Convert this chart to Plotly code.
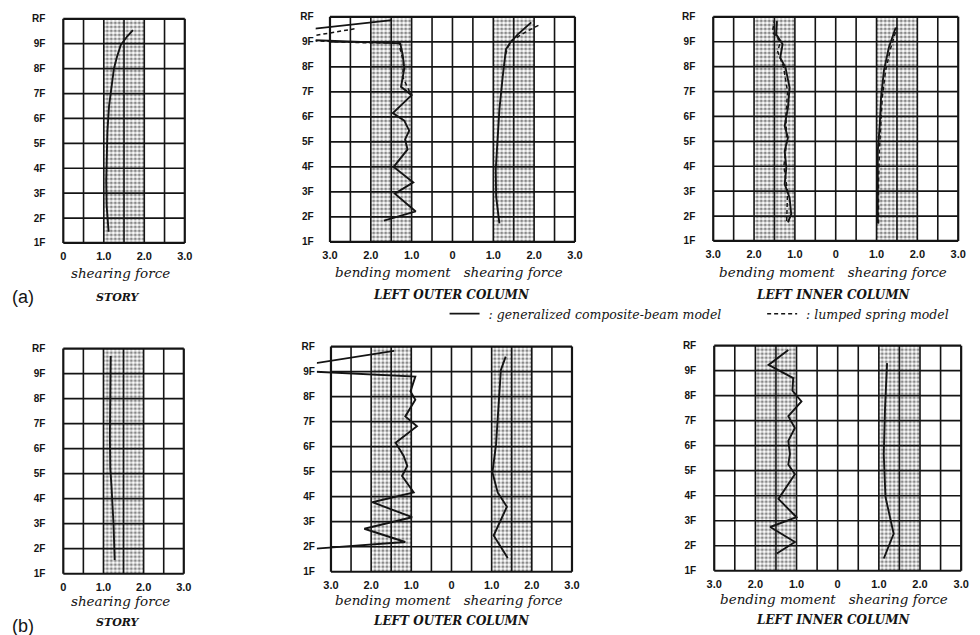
import plotly.graph_objects as go

# ---------------- data ----------------
floor_labels = ["1F", "2F", "3F", "4F", "5F", "6F", "7F", "8F", "9F", "RF"]
floor_levels = [0, 1, 2, 3, 4, 5, 6, 7, 8, 9]

story_tickvals = [0, 1, 2, 3]
story_ticktext = ["0", "1.0", "2.0", "3.0"]
column_tickvals = [-3, -2, -1, 0, 1, 2, 3]
column_ticktext = ["3.0", "2.0", "1.0", "0", "1.0", "2.0", "3.0"]

story_bands = [(1.0, 2.0)]
column_bands = [(-2.0, -1.0), (1.0, 2.0)]   # bending side (left), shearing side (right)

# (a) STORY shearing force
story_a_gen_sf = [1.12, 1.07, 1.06, 1.07, 1.09, 1.13, 1.20, 1.25, 1.33, 1.42, 1.58, 1.72]
story_a_gen_y = [0.45, 1.5, 2.5, 3.5, 4.5, 5.5, 6.5, 7.0, 7.5, 7.95, 8.3, 8.55]

# (a) LEFT OUTER COLUMN
outer_a_gen_bm = [1.68, 0.90, 1.41, 0.96, 1.44, 1.10, 1.16, 1.06, 1.18, 1.46, 1.00, 1.26, 1.18, 1.22, 1.28, 5.3, 1.48]
outer_a_gen_bm_y = [0.85, 1.22, 1.93, 2.38, 3.0, 3.7, 4.1, 4.45, 4.85, 5.15, 5.87, 6.2, 6.94, 7.5, 7.94, 8.18, 8.87]
outer_a_lump_bm = [1.05, 1.22, 1.20, 1.28, 1.30, 2.30, 4.0, 2.40]
outer_a_lump_bm_y = [6.0, 6.6, 7.2, 7.7, 7.96, 7.97, 8.08, 8.52]
outer_a_gen_sf = [1.15, 1.07, 1.06, 1.11, 1.15, 1.23, 1.31, 1.42, 1.60, 1.93]
outer_a_gen_sf_y = [0.74, 1.8, 2.9, 4.2, 5.3, 6.6, 7.7, 7.98, 8.3, 8.78]
outer_a_lump_sf = [1.30, 1.36, 1.45, 1.80, 2.15]
outer_a_lump_sf_y = [7.5, 7.8, 8.05, 8.4, 8.7]

# (a) LEFT INNER COLUMN
inner_a_gen_bm = [1.17, 1.09, 1.13, 1.25, 1.21, 1.25, 1.17, 1.25, 1.17, 1.13, 1.23, 1.36, 1.30, 1.46, 1.44]
inner_a_gen_bm_y = [0.75, 1.08, 1.74, 2.28, 2.94, 3.61, 4.15, 4.62, 5.35, 6.16, 6.96, 7.36, 7.9, 8.3, 8.83]
inner_a_lump_bm = [1.20, 1.18, 1.27, 1.20, 1.22, 1.18, 1.28, 1.42, 1.36, 1.55, 1.50]
inner_a_lump_bm_y = [0.8, 2.0, 3.0, 4.0, 5.0, 6.0, 7.0, 7.6, 8.0, 8.4, 8.85]
inner_a_gen_sf = [1.03, 1.03, 1.02, 1.03, 1.08, 1.11, 1.18, 1.30, 1.47]
inner_a_gen_sf_y = [0.7, 1.2, 2.28, 3.61, 4.69, 5.75, 6.83, 7.76, 8.57]
inner_a_lump_sf = [1.05, 1.05, 1.05, 1.07, 1.10, 1.14, 1.22, 1.35, 1.50]
inner_a_lump_sf_y = [0.7, 1.2, 2.28, 3.61, 4.69, 5.75, 6.83, 7.76, 8.57]

# (b) STORY shearing force
story_b_gen_sf = [1.28, 1.25, 1.20, 1.17, 1.16, 1.17, 1.18]
story_b_gen_y = [0.55, 2.0, 3.5, 4.2, 5.5, 7.0, 8.7]

# (b) LEFT OUTER COLUMN
outer_b_gen_bm = [4.0, 1.15, 2.17, 0.98, 1.97, 0.94, 1.23, 1.10, 1.19, 1.39, 0.86, 1.15, 0.90, 1.02, 0.90, 4.4, 1.43]
outer_b_gen_bm_y = [0.85, 1.19, 1.72, 2.18, 2.78, 3.17, 3.83, 4.23, 4.63, 5.16, 5.82, 6.21, 6.88, 7.21, 7.8, 8.08, 8.83]
outer_b_gen_sf = [1.40, 1.05, 1.38, 1.15, 1.02, 1.11, 1.15, 1.19, 1.23, 1.35]
outer_b_gen_sf_y = [0.55, 1.45, 2.6, 3.17, 3.97, 5.1, 6.1, 7.0, 8.07, 8.6]

# (b) LEFT INNER COLUMN
inner_b_gen_bm = [1.48, 1.04, 1.64, 1.00, 1.44, 1.04, 1.20, 1.16, 1.20, 1.04, 1.20, 0.88, 1.10, 1.08, 1.68, 1.20]
inner_b_gen_bm_y = [0.69, 1.15, 1.75, 2.14, 2.87, 3.86, 4.25, 4.67, 5.19, 5.71, 6.18, 6.77, 7.2, 7.7, 8.23, 8.83]
inner_b_gen_sf = [1.12, 1.36, 1.16, 1.12, 1.15, 1.20]
inner_b_gen_sf_y = [0.49, 1.48, 2.96, 4.66, 6.5, 8.3]

# ---------------- layout helpers ----------------
W, H = 980, 635
INK = "#141414"
NB = "\u00a0"

# panel: grid pixel box (left, right, top, bottom), grid x extent, axis low x
panels = [
    dict(box=(58, 181, 15, 242), gx=(0, 3), xlow=None, kind="story"),
    dict(box=(328, 576, 13, 241), gx=(-3, 3), xlow=-3.35, kind="col"),
    dict(box=(716, 964, 13, 240), gx=(-3, 3), xlow=None, kind="col"),
    dict(box=(58, 180, 349, 577), gx=(0, 3), xlow=None, kind="story"),
    dict(box=(329, 573, 347, 575), gx=(-3, 3), xlow=-3.35, kind="col"),
    dict(box=(717, 967, 346, 574), gx=(-3, 3), xlow=None, kind="col"),
]

fig = go.Figure()
layout = dict(
    width=W, height=H, margin=dict(l=0, r=0, t=0, b=0),
    paper_bgcolor="white", plot_bgcolor="white",
    showlegend=True,
)
shapes = []

for i, p in enumerate(panels, start=1):
    L, R, T, B = p["box"]
    g0, g1 = p["gx"]
    sx = (R - L) / (g1 - g0)
    sy = (B - T) / 9.0
    padx = 2.0 / sx
    pady = 2.0 / sy
    rx0 = p["xlow"] if p["xlow"] is not None else g0 - padx
    rx1 = g1 + padx
    ry0, ry1 = -pady, 9 + pady
    dl = L + (rx0 - g0) * sx
    dr = L + (rx1 - g0) * sx
    db = B + pady * sy
    dt = T - pady * sy
    sfx = "" if i == 1 else str(i)
    standoff = 1 if p["xlow"] is not None else 15
    layout["xaxis" + sfx] = dict(
        domain=[dl / W, dr / W], range=[rx0, rx1], anchor="y" + sfx,
        showgrid=False, zeroline=False, showline=False, ticks="",
        tickvals=story_tickvals if p["kind"] == "story" else column_tickvals,
        ticktext=story_ticktext if p["kind"] == "story" else column_ticktext,
        tickfont=dict(family="Liberation Sans", size=11, color=INK, weight="bold"),
        ticklabelstandoff=3, fixedrange=True,
    )
    layout["yaxis" + sfx] = dict(
        domain=[1 - db / H, 1 - dt / H], range=[ry0, ry1], anchor="x" + sfx,
        showgrid=False, zeroline=False, showline=False, ticks="",
        tickvals=floor_levels, ticktext=floor_labels,
        tickfont=dict(family="Liberation Sans", size=10, color=INK, weight="bold"),
        ticklabelstandoff=standoff, fixedrange=True,
    )
    xr, yr = "x" + sfx, "y" + sfx
    # stippled bands
    bands = story_bands if p["kind"] == "story" else column_bands
    for b0, b1 in bands:
        fig.add_trace(go.Scatter(
            x=[b0, b1, b1, b0, b0], y=[0, 0, 9, 9, 0], xaxis=xr, yaxis=yr,
            mode="lines", line=dict(width=0), fill="toself",
            fillcolor="white",
            fillpattern=dict(shape=".", fgcolor="#111", bgcolor="white",
                             size=4, solidity=0.5),
            showlegend=False, hoverinfo="skip",
        ))
    # grid (vertical every 0.5, horizontal every floor)
    nv = int(round((g1 - g0) / 0.5))
    for k in range(nv + 1):
        v = g0 + 0.5 * k
        edge = k in (0, nv)
        shapes.append(dict(type="line", xref=xr, yref=yr, x0=v, x1=v, y0=0, y1=9,
                           line=dict(color=INK, width=2.2 if edge else 1.6), layer="above"))
    for f in floor_levels:
        edge = f in (0, 9)
        shapes.append(dict(type="line", xref=xr, yref=yr, x0=g0, x1=g1, y0=f, y1=f,
                           line=dict(color=INK, width=2.2 if edge else 1.7), layer="above"))

legend_done = {"gen": False, "lump": False}


def add_line(vals, ys, panel_idx, model, side):
    sfx = "" if panel_idx == 1 else str(panel_idx)
    xs = [-v for v in vals] if side == "bm" else list(vals)
    show = not legend_done[model]
    legend_done[model] = True
    if model == "gen":
        line = dict(color=INK, width=1.9)
        name = NB + ": generalized composite-beam model" + NB * 9
    else:
        line = dict(color=INK, width=1.5, dash="4px,3px")
        name = NB + ": lumped spring model"
    fig.add_trace(go.Scatter(
        x=xs, y=ys, xaxis="x" + sfx, yaxis="y" + sfx, mode="lines", line=line,
        name=name, legendgroup=model, showlegend=show, hoverinfo="skip",
    ))


add_line(story_a_gen_sf, story_a_gen_y, 1, "gen", "sf")
add_line(outer_a_gen_bm, outer_a_gen_bm_y, 2, "gen", "bm")
add_line(outer_a_lump_bm, outer_a_lump_bm_y, 2, "lump", "bm")
add_line(outer_a_gen_sf, outer_a_gen_sf_y, 2, "gen", "sf")
add_line(outer_a_lump_sf, outer_a_lump_sf_y, 2, "lump", "sf")
add_line(inner_a_gen_bm, inner_a_gen_bm_y, 3, "gen", "bm")
add_line(inner_a_lump_bm, inner_a_lump_bm_y, 3, "lump", "bm")
add_line(inner_a_gen_sf, inner_a_gen_sf_y, 3, "gen", "sf")
add_line(inner_a_lump_sf, inner_a_lump_sf_y, 3, "lump", "sf")
add_line(story_b_gen_sf, story_b_gen_y, 4, "gen", "sf")
add_line(outer_b_gen_bm, outer_b_gen_bm_y, 5, "gen", "bm")
add_line(outer_b_gen_sf, outer_b_gen_sf_y, 5, "gen", "sf")
add_line(inner_b_gen_bm, inner_b_gen_bm_y, 6, "gen", "bm")
add_line(inner_b_gen_sf, inner_b_gen_sf_y, 6, "gen", "sf")

# ---------------- texts ----------------
ital = dict(family="DejaVu Serif", size=13.5, color=INK, style="italic")
ital_caps = dict(family="DejaVu Serif", size=12, color=INK, style="italic", weight="bold")
story_caps = dict(family="DejaVu Serif", size=11, color=INK, style="italic", weight="bold")


def txt(s, px, py, font, xanchor="center"):
    return dict(text=s, x=px / W, y=1 - py / H, xref="paper", yref="paper",
                showarrow=False, font=font, xanchor=xanchor, yanchor="middle")


col_title = "bending moment" + NB * 3 + "shearing force"
annotations = [
    txt("shearing force", 116, 272, ital),
    txt("STORY", 113, 297, story_caps),
    txt(col_title, 448, 271, ital),
    txt("LEFT OUTER COLUMN", 451, 295, ital_caps),
    txt(col_title, 837, 271, ital),
    txt("LEFT INNER COLUMN", 838, 295, ital_caps),
    txt("shearing force", 116, 605, ital),
    txt("STORY", 113, 626, story_caps),
    txt(col_title, 448, 604, ital),
    txt("LEFT OUTER COLUMN", 451, 625, ital_caps),
    txt(col_title, 838, 603, ital),
    txt("LEFT INNER COLUMN", 838, 624, ital_caps),
    txt("(a)", 4, 297, dict(family="Liberation Sans", size=18, color=INK), xanchor="left"),
    txt("(b)", 4, 630, dict(family="Liberation Sans", size=18, color=INK), xanchor="left"),
]

layout["annotations"] = annotations
layout["shapes"] = shapes
layout["legend"] = dict(
    orientation="h", x=444 / W, xanchor="left", y=1 - 314 / H, yanchor="middle",
    bgcolor="rgba(0,0,0,0)",
    font=dict(family="DejaVu Serif", size=12.5, color=INK, style="italic"),
    itemwidth=30, tracegroupgap=0,
)
fig.update_layout(**layout)

fig.write_html("out.html", config={"displayModeBar": False},
               post_script="document.body.style.margin='0';document.body.style.overflow='hidden';")
